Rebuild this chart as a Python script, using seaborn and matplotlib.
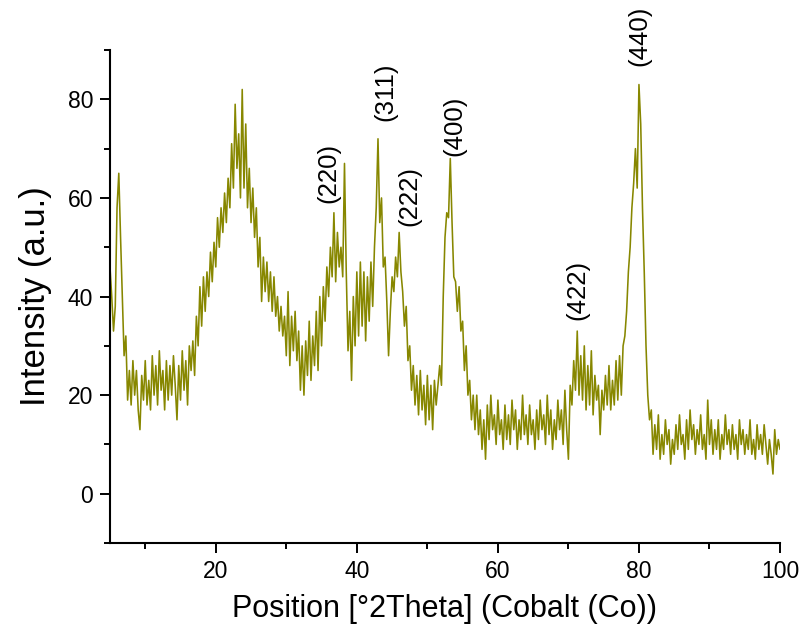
import numpy as np
import pandas as pd
import matplotlib
matplotlib.use("Agg")
import matplotlib.pyplot as plt
from matplotlib.ticker import MultipleLocator
import seaborn as sns

# 2-theta sampling grid (deg), 0.25 deg steps from 5 to 100
two_theta = np.arange(5.0, 100.0001, 0.25)

# Intensity, 4 samples per degree starting at 5.0
intensity = [
    46, 40, 33, 38,   # 5
    58, 65, 52, 40,   # 6
    28, 32, 19, 25,   # 7
    18, 27, 20, 25,   # 8
    17, 13, 24, 19,   # 9
    27, 18, 23, 17,   # 10
    28, 20, 26, 18,   # 11
    29, 21, 25, 17,   # 12
    27, 19, 26, 20,   # 13
    28, 22, 15, 26,   # 14
    19, 29, 21, 27,   # 15
    18, 30, 25, 31,   # 16
    24, 36, 30, 42,   # 17
    34, 44, 37, 45,   # 18
    40, 49, 43, 51,   # 19
    46, 56, 50, 58,   # 20
    53, 61, 55, 64,   # 21
    58, 71, 62, 79,   # 22
    66, 73, 60, 82,   # 23
    62, 75, 58, 66,   # 24
    55, 62, 52, 58,   # 25
    46, 52, 39, 48,   # 26
    41, 47, 39, 45,   # 27
    37, 44, 36, 40,   # 28
    33, 38, 32, 36,   # 29
    28, 41, 26, 36,   # 30
    29, 37, 27, 33,   # 31
    21, 30, 20, 31,   # 32
    24, 35, 23, 32,   # 33
    26, 37, 25, 40,   # 34
    30, 42, 35, 46,   # 35
    40, 50, 44, 57,   # 36
    43, 53, 46, 50,   # 37
    44, 67, 45, 29,   # 38
    37, 23, 40, 30,   # 39
    45, 32, 47, 34,   # 40
    45, 31, 44, 35,   # 41
    47, 38, 50, 58,   # 42
    72, 55, 60, 46,   # 43
    48, 39, 28, 37,   # 44
    44, 41, 48, 44,   # 45
    53, 45, 41, 34,   # 46
    38, 27, 30, 21,   # 47
    26, 18, 24, 16,   # 48
    25, 17, 22, 14,   # 49
    24, 15, 22, 13,   # 50
    23, 18, 22, 26,   # 51
    22, 40, 52, 57,   # 52
    56, 68, 55, 44,   # 53
    43, 37, 42, 33,   # 54
    35, 25, 30, 20,   # 55
    23, 15, 20, 13,   # 56
    20, 12, 17, 9,    # 57
    15, 7, 18, 11,    # 58
    20, 13, 16, 10,   # 59
    19, 12, 15, 9,    # 60
    18, 11, 16, 10,   # 61
    19, 13, 17, 9,    # 62
    15, 11, 20, 12,   # 63
    16, 10, 18, 12,   # 64
    15, 9, 17, 11,    # 65
    19, 13, 16, 10,   # 66
    20, 12, 17, 9,    # 67
    15, 11, 19, 13,   # 68
    17, 10, 21, 13,   # 69
    7, 22, 18, 27,    # 70
    21, 33, 20, 28,   # 71
    19, 30, 17, 26,   # 72
    18, 29, 16, 24,   # 73
    19, 22, 12, 21,   # 74
    17, 24, 18, 26,   # 75
    17, 23, 18, 27,   # 76
    19, 28, 20, 30,   # 77
    32, 37, 45, 50,   # 78
    58, 63, 70, 62,   # 79
    83, 75, 58, 45,   # 80
    30, 20, 15, 17,   # 81
    8, 14, 9, 16,     # 82
    7, 12, 8, 15,     # 83
    10, 13, 6, 11,    # 84
    8, 14, 9, 16,     # 85
    10, 12, 7, 15,    # 86
    9, 17, 11, 14,    # 87
    8, 13, 10, 16,    # 88
    9, 12, 7, 19,     # 89
    10, 15, 8, 13,    # 90
    9, 15, 7, 12,     # 91
    9, 16, 10, 13,    # 92
    8, 14, 9, 12,     # 93
    7, 15, 10, 13,    # 94
    8, 12, 9, 15,     # 95
    8, 11, 7, 14,     # 96
    9, 12, 8, 14,     # 97
    10, 6, 11, 8,     # 98
    4, 13, 8, 11,     # 99
    9,                # 100
]

# Peak labels (Miller indices) and their label anchor positions
peak_labels = ["(220)", "(311)", "(222)", "(400)", "(422)", "(440)"]
label_x = [35.9, 44.0, 47.5, 53.8, 71.2, 80.1]
label_y = [65.1, 81.5, 60.4, 74.6, 41.4, 92.9]

df = pd.DataFrame({"two_theta": two_theta, "intensity": intensity})

sns.set_style("ticks")
plt.rcParams["font.family"] = ["Liberation Sans", "DejaVu Sans"]

fig = plt.figure(figsize=(8.01, 6.30), dpi=100)
ax = fig.add_axes([0.1373, 0.138, 0.8365, 0.7826])

sns.lineplot(data=df, x="two_theta", y="intensity", ax=ax,
             color="#878700", linewidth=1.15)

ax.set_xlim(5, 100)
ax.set_ylim(-10, 90)
ax.xaxis.set_major_locator(MultipleLocator(20))
ax.xaxis.set_minor_locator(MultipleLocator(10))
ax.yaxis.set_major_locator(MultipleLocator(20))
ax.yaxis.set_minor_locator(MultipleLocator(10))
ax.set_xticks([20, 40, 60, 80, 100])

ax.tick_params(which="major", direction="out", length=7.2, width=1.4,
               labelsize=16.5, colors="black", labelcolor="black", pad=5)
ax.tick_params(which="minor", direction="out", length=4, width=1.4,
               colors="black")

for side in ["top", "right"]:
    ax.spines[side].set_visible(False)
for side in ["left", "bottom"]:
    ax.spines[side].set_linewidth(1.5)
    ax.spines[side].set_color("black")

ax.set_xlabel("Position [°2Theta] (Cobalt (Co))", fontsize=22, labelpad=8,
              color="black")
ax.set_ylabel("Intensity (a.u.)", fontsize=25, labelpad=11, color="black")

for lab, lx, ly in zip(peak_labels, label_x, label_y):
    ax.text(lx, ly, lab, rotation=90, ha="center", va="center",
            fontsize=18.5, color="black", clip_on=False)

fig.savefig("out.png", dpi=100)
